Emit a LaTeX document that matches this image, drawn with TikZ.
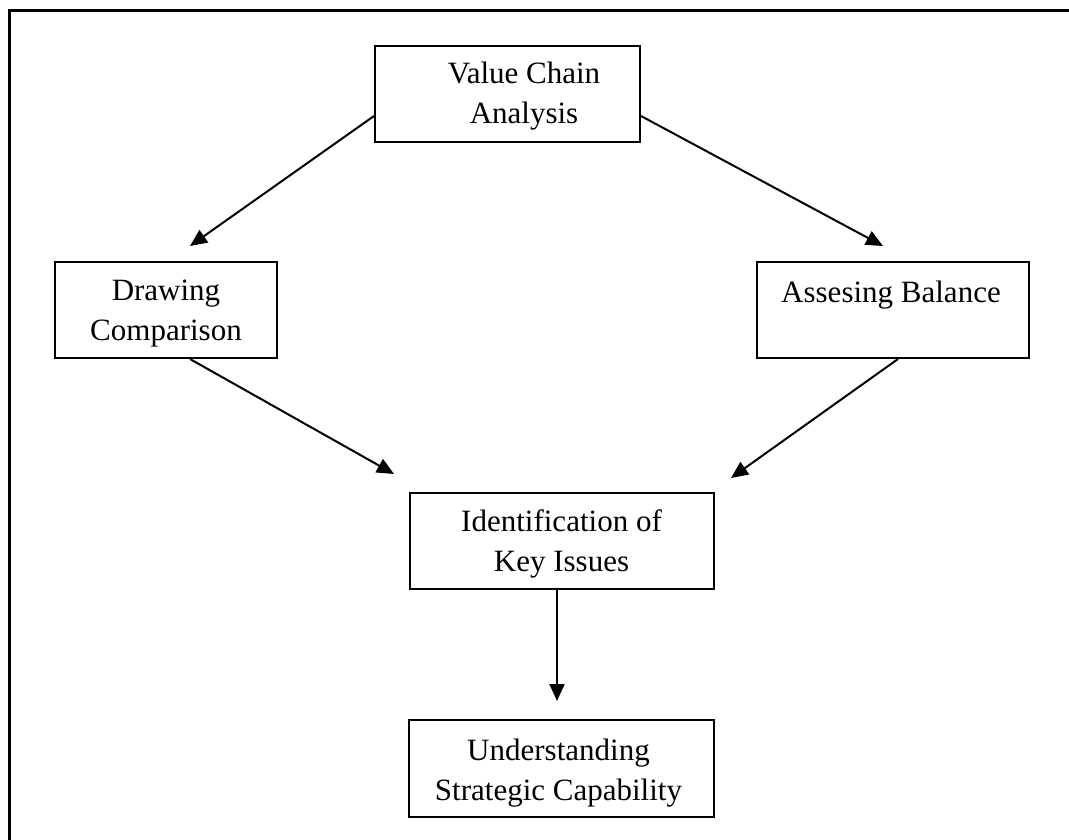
\documentclass[tikz,border=0pt]{standalone}
\usepackage{fontspec}
\setmainfont{Liberation Serif}
\usetikzlibrary{arrows.meta,calc}

\tikzset{
  box/.style={draw, line width=2pt, rectangle, inner sep=0pt, minimum height=96pt},
  label/.style={align=center, anchor=north, inner sep=0pt,
    font=\fontsize{31}{40}\selectfont},
  link/.style={line width=2pt, -{Triangle[length=17pt,width=15pt]}}
}

\begin{document}
\begin{tikzpicture}[x=1pt, y=-1pt]
  \clip (0,0) rectangle (1069,839);
  \fill[white] (0,0) rectangle (1069,839);

  % outer frame (continues past the right and bottom edges)
  \draw[line width=2.5pt] (9.5,860) -- (9.5,10.5) -- (1090,10.5);

  % boxes
  \node[box, minimum width=265pt] (vca) at (507.5,94)  {};
  \node[box, minimum width=222pt] (dc)  at (166,310)   {};
  \node[box, minimum width=272pt] (ab)  at (893,310)   {};
  \node[box, minimum width=304pt] (iki) at (562,541)   {};
  \node[box, minimum width=305pt, minimum height=97pt] (usc) at (561.5,768.5) {};

  % box texts (top of first line = baseline - ascender)
  \node[label] (vcaT) at (524,62)  {Value Chain\\Analysis};
  \node[label] (dcT)  at (166,280) {Drawing\\Comparison};
  \node[label] (abT)  at (891,281) {Assesing Balance};
  \node[label] (ikiT) at (561.5,509) {Identification of\\Key Issues};
  \node[label] (uscT) at (558.5,739) {Understanding\\Strategic Capability};

  % connectors
  \draw[link] ($(vca.south west)+(0,-27)$) -- ($(dc.north)+(24,-15)$);
  \draw[link] ($(vca.south east)+(0,-27)$) -- ($(ab.north)+(-10,-15)$);
  \draw[link] ($(dc.south)+(24,0)$) -- ($(iki.north west)+(-15,-18)$);
  \draw[link] ($(ab.south)+(5,0)$) -- ($(iki.north east)+(16,-14)$);
  \draw[link] ($(iki.south)+(-5,0)$) -- ($(usc.north)+(-4.5,-18)$);
\end{tikzpicture}
\end{document}
